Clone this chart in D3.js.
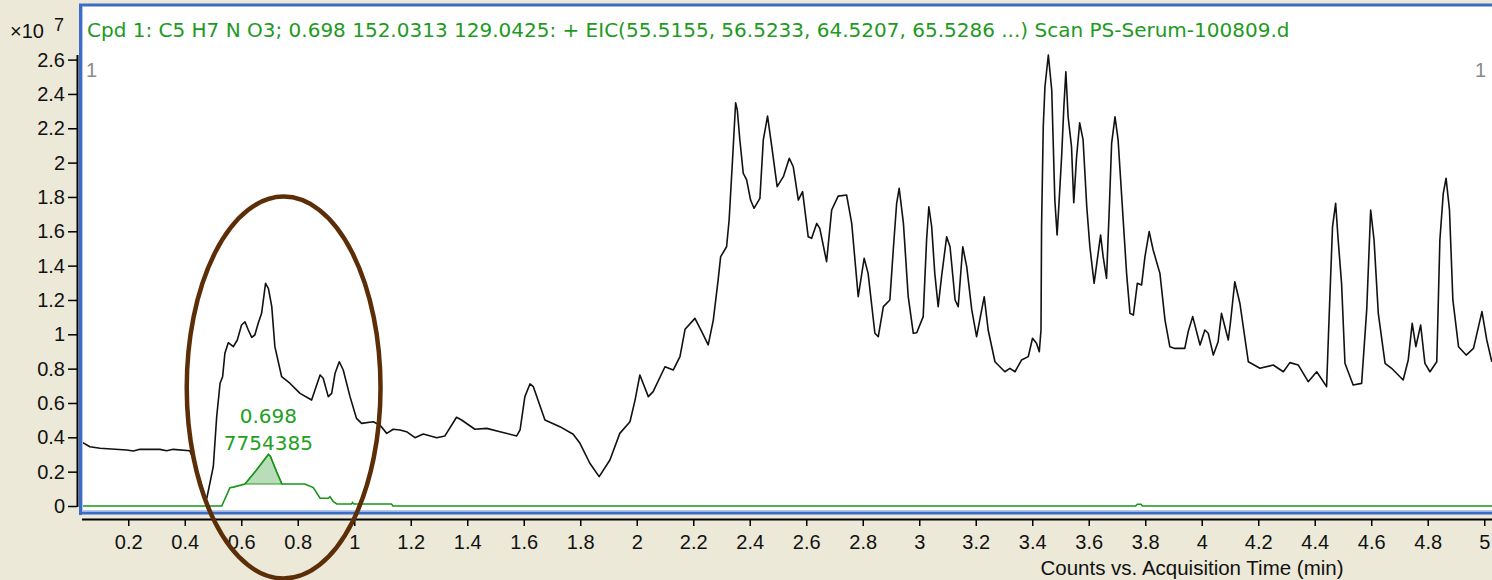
<!DOCTYPE html>
<html>
<head>
<meta charset="utf-8">
<script src="https://cdn.jsdelivr.net/npm/d3@7"></script>
<style>
  body { margin: 0; background: #ece9d8; }
  svg { display: block; font-family: "Liberation Sans", Arial, sans-serif; }
</style>
</head>
<body>
<div id="chart"></div>
<script>
// tiempos (min) y cuentas (x10^7) del TIC negro
var ticTime = [0.039,0.064,0.100,0.194,0.218,0.241,0.312,0.336,0.359,0.418,0.436,0.472,0.478,0.501,0.513,0.525,0.534,0.542,0.554,0.572,0.586,0.601,0.613,0.625,0.637,0.648,0.660,0.672,0.686,0.696,0.708,0.719,0.743,0.772,0.808,0.849,0.861,0.879,0.890,0.908,0.920,0.932,0.947,0.961,0.985,1.008,1.026,1.067,1.091,1.115,1.138,1.162,1.185,1.215,1.244,1.292,1.321,1.362,1.380,1.427,1.469,1.516,1.575,1.587,1.604,1.622,1.634,1.675,1.728,1.775,1.799,1.834,1.867,1.905,1.940,1.976,1.994,2.011,2.041,2.058,2.100,2.129,2.153,2.171,2.206,2.230,2.253,2.271,2.288,2.297,2.318,2.327,2.339,2.350,2.356,2.365,2.377,2.389,2.403,2.415,2.436,2.448,2.463,2.478,2.497,2.519,2.540,2.554,2.572,2.587,2.607,2.619,2.637,2.648,2.672,2.690,2.713,2.743,2.761,2.784,2.805,2.819,2.843,2.855,2.873,2.896,2.908,2.920,2.929,2.944,2.961,2.979,2.991,3.014,3.026,3.034,3.044,3.055,3.067,3.079,3.097,3.109,3.127,3.138,3.154,3.168,3.186,3.203,3.230,3.244,3.268,3.303,3.321,3.339,3.362,3.386,3.401,3.415,3.425,3.431,3.433,3.439,3.445,3.457,3.469,3.480,3.488,3.494,3.504,3.512,3.519,3.527,3.539,3.547,3.557,3.568,3.580,3.593,3.604,3.619,3.642,3.651,3.663,3.673,3.681,3.693,3.704,3.716,3.734,3.746,3.758,3.772,3.787,3.799,3.814,3.828,3.852,3.870,3.887,3.905,3.940,3.952,3.968,3.994,4.011,4.023,4.041,4.058,4.070,4.082,4.094,4.102,4.117,4.135,4.165,4.206,4.253,4.289,4.312,4.342,4.377,4.407,4.442,4.451,4.463,4.474,4.483,4.495,4.507,4.536,4.566,4.584,4.598,4.610,4.625,4.649,4.672,4.713,4.731,4.745,4.758,4.775,4.790,4.808,4.832,4.843,4.855,4.865,4.877,4.889,4.909,4.936,4.962,4.992,5.009,5.027];
var ticCounts = [0.369,0.345,0.336,0.326,0.320,0.330,0.330,0.322,0.330,0.322,0.250,0.054,0.045,0.229,0.520,0.715,0.753,0.889,0.951,0.928,0.967,1.054,1.073,1.025,0.982,0.996,1.064,1.122,1.297,1.268,1.161,0.928,0.753,0.715,0.656,0.617,0.676,0.763,0.744,0.637,0.656,0.773,0.840,0.792,0.637,0.510,0.481,0.491,0.472,0.423,0.447,0.443,0.433,0.398,0.419,0.398,0.408,0.517,0.501,0.447,0.452,0.433,0.408,0.443,0.637,0.711,0.695,0.501,0.462,0.418,0.365,0.249,0.171,0.268,0.423,0.491,0.617,0.763,0.637,0.666,0.811,0.792,0.870,1.029,1.093,1.015,0.938,1.083,1.316,1.452,1.510,1.666,2.015,2.349,2.306,2.132,1.938,1.899,1.782,1.734,1.792,2.132,2.271,2.093,1.860,1.918,2.025,1.976,1.782,1.831,1.568,1.559,1.646,1.617,1.423,1.724,1.805,1.811,1.646,1.219,1.443,1.355,1.006,0.986,1.161,1.200,1.491,1.763,1.850,1.646,1.219,1.006,1.009,1.103,1.549,1.743,1.627,1.355,1.161,1.336,1.568,1.510,1.200,1.161,1.510,1.394,1.142,0.986,1.219,1.025,0.840,0.782,0.802,0.782,0.850,0.870,0.977,0.948,0.899,1.025,1.627,2.209,2.442,2.627,2.423,1.782,1.578,1.743,2.034,2.326,2.529,2.267,2.093,1.766,2.034,2.232,2.132,1.743,1.510,1.297,1.578,1.452,1.326,1.743,2.112,2.267,2.132,1.821,1.355,1.122,1.112,1.297,1.287,1.452,1.598,1.491,1.355,1.083,0.928,0.918,0.918,1.015,1.103,0.938,1.025,1.006,0.879,0.957,1.122,1.044,0.967,1.073,1.306,1.181,0.840,0.802,0.821,0.782,0.835,0.821,0.724,0.782,0.695,1.103,1.627,1.763,1.549,1.297,0.831,0.705,0.714,1.142,1.724,1.549,1.122,0.831,0.802,0.734,0.850,1.064,0.928,1.054,0.831,0.782,0.840,1.549,1.821,1.909,1.724,1.200,0.928,0.879,0.918,1.132,0.967,0.840];

// EIC verde
var eicTime = [0.039,0.531,0.560,0.572,0.613,0.654,0.675,0.696,0.703,0.725,0.744,0.825,0.855,0.879,0.908,0.914,0.926,0.938,0.990,0.994,0.998,1.132,1.137,3.766,3.772,3.785,3.790,5.030];
var eicCounts = [0,0,0.107,0.110,0.128,0.210,0.255,0.300,0.290,0.200,0.128,0.128,0.107,0.045,0.045,0.054,0.025,0.012,0.012,0.020,0.012,0.012,0,0,0.010,0.010,0,0];

// pico integrado
var peakTime = [0.613,0.654,0.675,0.696,0.703,0.725,0.744];
var peakCounts = [0.128,0.210,0.255,0.300,0.290,0.200,0.128];
var peakBase = 0.128;
var peakLabel = ["0.698", "7754385"];

var yTicks = [0,0.2,0.4,0.6,0.8,1,1.2,1.4,1.6,1.8,2,2.2,2.4,2.6];
var xTicks = [0.2,0.4,0.6,0.8,1,1.2,1.4,1.6,1.8,2,2.2,2.4,2.6,2.8,3,3.2,3.4,3.6,3.8,4,4.2,4.4,4.6,4.8,5];

var titulo = "Cpd 1: C5 H7 N O3; 0.698 152.0313 129.0425: + EIC(55.5155, 56.5233, 64.5207, 65.5286 ...) Scan PS-Serum-100809.d";

var W = 1492, H = 580;
var svg = d3.select("#chart").append("svg")
    .attr("width", W)
    .attr("height", H);

svg.append("rect").attr("width", W).attr("height", H).attr("fill", "#ece9d8");

// area del grafico
svg.append("rect").attr("x", 80).attr("y", 5).attr("width", W - 80).attr("height", 509).attr("fill", "#fff");

var x = d3.scaleLinear().domain([0.038, 5.03]).range([82.5, 1492.7]);
var y = d3.scaleLinear().domain([0, 2.6]).range([506, 59.6]);

svg.append("clipPath").attr("id", "clip")
  .append("rect").attr("x", 82).attr("y", 6).attr("width", W - 82).attr("height", 506);

var tic = ticTime.map(function(t, i) { return [t, ticCounts[i]]; });
var eic = eicTime.map(function(t, i) { return [t, eicCounts[i]]; });
var peak = peakTime.map(function(t, i) { return [t, peakCounts[i]]; });

var line = d3.line()
    .x(function(d) { return x(d[0]); })
    .y(function(d) { return y(d[1]); });

var g = svg.append("g").attr("clip-path", "url(#clip)");

// area del pico
g.append("path")
    .datum(peak)
    .attr("d", d3.area()
        .x(function(d) { return x(d[0]); })
        .y0(y(peakBase))
        .y1(function(d) { return y(d[1]); }))
    .attr("fill", "#b9ddb9")
    .attr("stroke", "#2a9a2a")
    .attr("stroke-width", 1.2);

g.append("path")
    .datum(eic)
    .attr("d", line)
    .attr("fill", "none")
    .attr("stroke", "#169616")
    .attr("stroke-width", 1.6);

g.append("path")
    .datum(tic)
    .attr("d", line)
    .attr("fill", "none")
    .attr("stroke", "#111")
    .attr("stroke-width", 1.6)
    .attr("stroke-linejoin", "round");

// marco azul
svg.append("line").attr("x1", 79).attr("x2", W).attr("y1", 5).attr("y2", 5).attr("stroke", "#3b6cc8").attr("stroke-width", 3);
svg.append("line").attr("x1", 80.5).attr("x2", 80.5).attr("y1", 4).attr("y2", 515).attr("stroke", "#3b6cc8").attr("stroke-width", 3);
svg.append("line").attr("x1", 79).attr("x2", W).attr("y1", 513).attr("y2", 513).attr("stroke", "#3b6cc8").attr("stroke-width", 3);
svg.append("line").attr("x1", 82).attr("x2", W).attr("y1", 510.5).attr("y2", 510.5).attr("stroke", "#b4c8ee").attr("stroke-width", 1);
svg.append("line").attr("x1", 82.5).attr("x2", 82.5).attr("y1", 7).attr("y2", 511).attr("stroke", "#b4c8ee").attr("stroke-width", 1);

var fmt = function(d) { return String(+d.toFixed(1)); };

// eje y
var yAxis = svg.append("g")
    .attr("transform", "translate(77,0)")
    .call(d3.axisLeft(y).tickValues(yTicks).tickSize(9).tickFormat(fmt));
yAxis.select(".domain").remove();
yAxis.selectAll("line").attr("stroke", "#000").attr("stroke-width", 1.5);
yAxis.selectAll("text").style("font-size", "20px").attr("fill", "#111").attr("font-family", null);
svg.append("line").attr("x1", 77.5).attr("x2", 77.5).attr("y1", 55).attr("y2", 507).attr("stroke", "#000").attr("stroke-width", 2);

// eje x
var xAxis = svg.append("g")
    .attr("transform", "translate(0,519)")
    .call(d3.axisBottom(x).tickValues(xTicks).tickSize(7).tickFormat(fmt));
xAxis.select(".domain").remove();
xAxis.selectAll("line").attr("stroke", "#000").attr("stroke-width", 1.5);
xAxis.selectAll("text").attr("y", 16).style("font-size", "20px").attr("fill", "#111").attr("font-family", null);
svg.append("line").attr("x1", 82).attr("x2", W).attr("y1", 519.5).attr("y2", 519.5).attr("stroke", "#000").attr("stroke-width", 2);

// textos
svg.append("text").attr("x", 10).attr("y", 38).style("font-size", "20px").attr("fill", "#111").text("\u00d710");
svg.append("text").attr("x", 54).attr("y", 31).style("font-size", "18px").attr("fill", "#111").text("7");
svg.append("text").attr("x", 87).attr("y", 37).style("font-size", "20px").style("font-family", "'DejaVu Sans'").attr("fill", "#1e9a1e").text(titulo);
svg.append("text").attr("x", 86).attr("y", 77).style("font-size", "20px").attr("fill", "#8a8a8a").text("1");
svg.append("text").attr("x", 1475).attr("y", 77).style("font-size", "20px").attr("fill", "#8a8a8a").text("1");

svg.append("text").attr("x", x(0.696)).attr("y", 423).style("text-anchor", "middle").style("font-size", "20px").style("font-family", "'DejaVu Sans'").attr("fill", "#22a022").text(peakLabel[0]);
svg.append("text").attr("x", x(0.696)).attr("y", 450).style("text-anchor", "middle").style("font-size", "20px").style("font-family", "'DejaVu Sans'").attr("fill", "#22a022").text(peakLabel[1]);

svg.append("text").attr("x", 1192).attr("y", 575).style("text-anchor", "middle").style("font-size", "20.5px").attr("fill", "#111").text("Counts vs. Acquisition Time (min)");

// elipse marron
svg.append("ellipse")
    .attr("cx", x(0.75))
    .attr("cy", y(0.69))
    .attr("rx", x(1.093) - x(0.75))
    .attr("ry", y(0) - y(1.112))
    .attr("fill", "none")
    .attr("stroke", "#5c2e08")
    .attr("stroke-width", 4.5);
</script>
</body>
</html>
